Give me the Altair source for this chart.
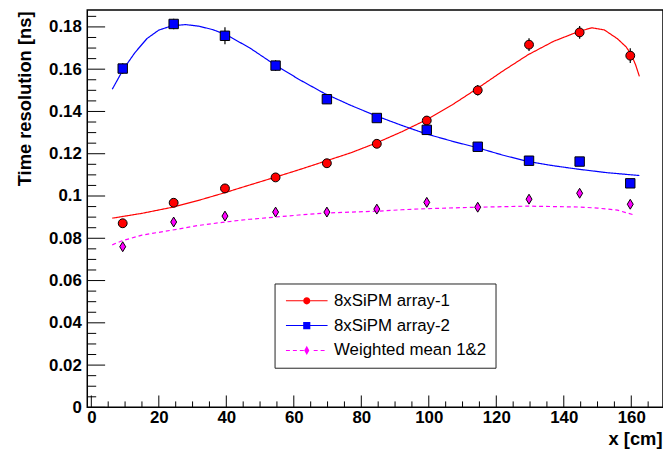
import altair as alt
import pandas as pd

# ---------------- data ----------------
SERIES = ["8xSiPM array-1", "8xSiPM array-2", "Weighted mean 1&2"]
COLORS = ["#ff0000", "#0000ff", "#ff00ff"]

x_pts = [9.3, 24.4, 39.6, 54.6, 69.8, 84.6, 99.4, 114.5, 129.7, 144.7, 159.7]

red_y = [0.0871, 0.0968, 0.1036, 0.1088, 0.1155, 0.1247, 0.1357, 0.1500, 0.1716, 0.1774, 0.1664]
red_err = [0.0015, 0.0015, 0.0018, 0.0015, 0.0015, 0.0015, 0.0020, 0.0025, 0.0030, 0.0030, 0.0035]

blue_y = [0.1603, 0.1814, 0.1758, 0.1617, 0.1458, 0.1369, 0.1313, 0.1233, 0.1167, 0.1163, 0.1060]
blue_err = [0.0025, 0.0025, 0.0040, 0.0025, 0.0020, 0.0015, 0.0015, 0.0015, 0.0015, 0.0020, 0.0020]

mag_y = [0.0760, 0.0877, 0.0905, 0.0924, 0.0924, 0.0938, 0.0970, 0.0947, 0.0985, 0.1013, 0.0961]
mag_err = [0.0012, 0.0012, 0.0015, 0.0012, 0.0012, 0.0010, 0.0010, 0.0010, 0.0012, 0.0015, 0.0015]

# fitted curves
red_fit_x = [6.2, 15, 24.1, 31.5, 39.0, 46.5, 54.3, 61.5, 69.0, 77, 84.6, 92, 99.2, 107, 114.5,
             122, 129.5, 137, 144.2, 148.3, 152, 155.9, 158.5, 160.0, 161.3, 162.4]
red_fit_y = [0.0895, 0.0918, 0.0947, 0.0978, 0.1013, 0.1050, 0.1088, 0.1124, 0.1163, 0.1205,
             0.1252, 0.1304, 0.1360, 0.1432, 0.1510, 0.1592, 0.1669, 0.1732, 0.1777, 0.1796,
             0.1786, 0.1744, 0.1705, 0.1669, 0.1620, 0.1566]

blue_fit_x = [6.2, 9.5, 13, 16.5, 20, 24, 28, 32, 36, 40, 47, 54.3, 61.5, 69, 77, 84.6, 92, 99.2,
              107, 114.5, 122, 129.5, 137, 144.2, 153, 162.4]
blue_fit_y = [0.1505, 0.1600, 0.1680, 0.1745, 0.1785, 0.1806, 0.1811, 0.1803, 0.1787, 0.1763,
              0.1700, 0.1622, 0.1552, 0.1486, 0.1428, 0.1378, 0.1334, 0.1294, 0.1259, 0.1228,
              0.1193, 0.1163, 0.1143, 0.1127, 0.1110, 0.1097]

mag_fit_x = [6.2, 9.1, 15, 24.1, 31.5, 39.6, 47, 54.3, 61.5, 69, 77, 84.6, 92, 99.2, 114.5,
             129.5, 144.2, 150, 155.9, 160.9]
mag_fit_y = [0.0769, 0.0788, 0.0815, 0.0839, 0.0860, 0.0877, 0.0890, 0.0900, 0.0910, 0.0919,
             0.0924, 0.0928, 0.0935, 0.0940, 0.0947, 0.0952, 0.0948, 0.0943, 0.0933, 0.0910]

# axis tick positions
X_MAJOR = [0, 20, 40, 60, 80, 100, 120, 140, 160]
Y_MAJOR = [0, 0.02, 0.04, 0.06, 0.08, 0.1, 0.12, 0.14, 0.16, 0.18]
X_MINOR = [v * 5 for v in range(34) if v % 4]
Y_MINOR = [round(v * 0.005, 3) for v in range(38) if v % 4]

# ---------------- tables ----------------
rows = []
for s, ys_, es in zip(SERIES, [red_y, blue_y, mag_y], [red_err, blue_err, mag_err]):
    for x, y, e in zip(x_pts, ys_, es):
        rows.append({"series": s, "x": x, "y": y, "lo": y - e, "hi": y + e})
pts = pd.DataFrame(rows)

frows = []
for s, fx, fy in zip(SERIES, [red_fit_x, blue_fit_x, mag_fit_x], [red_fit_y, blue_fit_y, mag_fit_y]):
    for i, (x, y) in enumerate(zip(fx, fy)):
        frows.append({"series": s, "x": x, "y": y, "i": i})
fits = pd.DataFrame(frows)

# ---------------- layout / styles ----------------
W, H = 581, 401
XDOM = [-1.2, 169.4]
YDOM = [0, 0.188]
FONT = "Liberation Sans"

xs = alt.Scale(domain=XDOM, nice=False, zero=False)
ys = alt.Scale(domain=YDOM, nice=False, zero=False)
cscale = alt.Scale(domain=SERIES, range=COLORS)

# legend symbol paths (line + marker); symbol size 144 -> 1 unit = 6 px,
# symbol centre sits 6 px from the entry's left edge
SYM = 144
U = 6.0
OFF = 15.0  # marker centre is 21 px from the left edge -> 15 px right of symbol centre
hw = 0.5


def P(x, y):
    return f"{(x + OFF) / U:.4f},{y / U:.4f}"


def seg(a, b):
    return f"M{P(a, -hw)}L{P(b, -hw)}L{P(b, hw)}L{P(a, hw)}Z"


rm = 3.6
circle = f"M{P(-rm, 0)}A{rm / U:.4f},{rm / U:.4f} 0 1,0 {P(rm, 0)}A{rm / U:.4f},{rm / U:.4f} 0 1,0 {P(-rm, 0)}Z"
sq = 3.6
square = f"M{P(-sq, -sq)}L{P(sq, -sq)}L{P(sq, sq)}L{P(-sq, sq)}Z"
dw, dh = 2.6, 4.6
diamond = f"M{P(0, -dh)}L{P(dw, 0)}L{P(0, dh)}L{P(-dw, 0)}Z"

p_red = seg(-21, -rm) + seg(rm, 21) + circle
p_blue = seg(-21, -sq) + seg(sq, 21) + square
dashes = ""
pos = -21.0
while pos < 21.0:
    a, b = pos, min(pos + 4.0, 21.0)
    if b <= -3.0 or a >= 3.0:
        dashes += seg(a, b)
    pos += 7.0
p_mag = dashes + diamond

label_kw = dict(labelFont=FONT, labelFontWeight="bold", labelFontSize=17, labelColor="black",
                labelFlush=False, labelOverlap=False, ticks=False, tickSize=0, domain=False,
                grid=False)
title_kw = dict(titleFont=FONT, titleFontWeight="bold", titleFontSize=18.5, titleColor="black")

x_axis = alt.Axis(values=X_MAJOR, format="d", labelPadding=2, title="x [cm]",
                  titleX=580, titleY=37.5, titleAlign="right", titleBaseline="alphabetic",
                  **label_kw, **title_kw)
y_axis = alt.Axis(values=Y_MAJOR, format="~g", labelPadding=6, title="Time resolution [ns]",
                  titleX=-57, titleY=1, titleAngle=270, titleAlign="right",
                  titleBaseline="alphabetic", **label_kw, **title_kw)


def X(field):
    return alt.X(field, scale=xs, axis=x_axis)


def Y(field):
    return alt.Y(field, scale=ys, axis=y_axis)


# ---------------- layers ----------------
ytick_major = alt.Chart(pd.DataFrame({"v": Y_MAJOR})).mark_rule(color="black", strokeWidth=1).encode(
    y=Y("v:Q"), x=alt.value(0), x2=alt.value(18))
ytick_minor = alt.Chart(pd.DataFrame({"v": Y_MINOR})).mark_rule(color="black", strokeWidth=1).encode(
    y=Y("v:Q"), x=alt.value(0), x2=alt.value(9))
xtick_major = alt.Chart(pd.DataFrame({"v": X_MAJOR})).mark_rule(color="black", strokeWidth=1).encode(
    x=X("v:Q"), y=alt.value(H), y2=alt.value(H - 12))
xtick_minor = alt.Chart(pd.DataFrame({"v": X_MINOR})).mark_rule(color="black", strokeWidth=1).encode(
    x=X("v:Q"), y=alt.value(H), y2=alt.value(H - 6))

dash_styles = [[1, 0], [1, 0], [4, 3]]
curve_layers = []
for s, c, d in zip(SERIES, COLORS, dash_styles):
    curve_layers.append(
        alt.Chart(fits).transform_filter(alt.datum.series == s).mark_line(
            strokeWidth=1.2, clip=True, color=c, strokeDash=d
        ).encode(x=X("x:Q"), y=Y("y:Q"), order="i:Q")
    )

errbars = alt.Chart(pts).mark_rule(color="black", strokeWidth=1.2).encode(
    x=X("x:Q"), y=Y("lo:Q"), y2="hi:Q")

shapes = ["circle", "square", "M0,-1L0.6,0L0,1L-0.6,0Z"]
sizes = [80, 90, 100]
point_layers = []
for s, c, sh, sz in zip(SERIES, COLORS, shapes, sizes):
    point_layers.append(
        alt.Chart(pts).transform_filter(alt.datum.series == s).mark_point(
            shape=sh, filled=True, fill=c, stroke="black", strokeWidth=1, size=sz, opacity=1
        ).encode(x=X("x:Q"), y=Y("y:Q"))
    )

legend = alt.Legend(orient="none", legendX=189, legendY=276, title=None, direction="vertical",
                    symbolSize=SYM, symbolStrokeWidth=0, labelFont=FONT, labelFontSize=17,
                    labelColor="black", labelOffset=34, rowPadding=7, padding=9,
                    strokeColor="#222222", fillColor="white")

legend_layer = alt.Chart(pts).transform_filter("false").mark_point(filled=True, opacity=1).encode(
    x=X("x:Q"),
    y=Y("y:Q"),
    color=alt.Color("series:N", scale=cscale, legend=legend),
    shape=alt.Shape("series:N", scale=alt.Scale(domain=SERIES, range=[p_red, p_blue, p_mag]),
                    legend=legend),
)

chart = alt.layer(
    ytick_major, ytick_minor, xtick_major, xtick_minor, *curve_layers, errbars, *point_layers,
    legend_layer
).properties(
    width=W, height=H,
    padding={"left": 80, "top": 0, "right": 0, "bottom": 41},
    autosize=alt.AutoSizeParams(type="none"),
    background="white",
).configure_view(stroke="black", strokeWidth=1.5)

chart.save("out.html", embed_options={"renderer": "svg", "actions": False})
